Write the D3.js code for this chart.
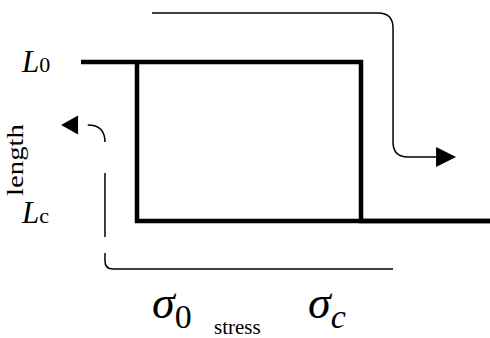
<!DOCTYPE html>
<html><head><meta charset="utf-8">
<script src="https://cdn.jsdelivr.net/npm/d3@7"></script>
<style>body{margin:0;background:#fff}svg{display:block}
text{font-family:"Liberation Serif","Times New Roman",Times,"DejaVu Serif",serif;fill:#000}</style>
</head><body>
<script>
// Data (stress in units where σ0=0, σc=1; length where Lc=0, L0=1)
const stressLabels = ["σ", "σ"];
const stressSubs = ["0", "c"];
const stressValues = [0, 1];
const lengthLabels = ["L", "L"];
const lengthSubs = ["0", "c"];
const lengthValues = [1, 0];
// loading branch (upper) and unloading branch (lower)
const loadStress = [-0.25, 1, 1, 1.58];
const loadLength = [1, 1, 0, 0];
const unloadStress = [1.58, 0, 0];
const unloadLength = [0, 0, 1];
// guide arrows (schematic direction of travel)
const guideTopStress = [0.067, 1.143, 1.143, 1.335];
const guideTopLength = [1.308, 1.308, 0.403, 0.403];
const guideBotStress = [1.143, -0.143, -0.143];
const guideBotLength = [-0.302, -0.302, -0.201];
const guideMidStress = [-0.143, -0.143];
const guideMidLength = [-0.1, 0.302];
const guideUpStress = [-0.143, -0.143, -0.22];
const guideUpLength = [0.497, 0.604, 0.604];
const arrowLeftTipStress = -0.339;

const W = 490, H = 338;
const x = d3.scaleLinear().domain([0, 1]).range([137, 361]);
const y = d3.scaleLinear().domain([0, 1]).range([221, 62]);

const svg = d3.select("body").append("svg").attr("width", W).attr("height", H);

const line = d3.line().x(d => x(d[0])).y(d => y(d[1]));
const zip = (a, b) => a.map((v, i) => [v, b[i]]);

function rounded(pts, r) {
  const p = pts.map(d => [x(d[0]), y(d[1])]);
  let s = `M${p[0][0]},${p[0][1]}`;
  for (let i = 1; i < p.length - 1; i++) {
    const a = p[i - 1], b = p[i], c = p[i + 1];
    const d1 = Math.hypot(b[0] - a[0], b[1] - a[1]), d2 = Math.hypot(c[0] - b[0], c[1] - b[1]);
    const rr = Math.min(r, d1 / 2, d2 / 2);
    const p1 = [b[0] + (a[0] - b[0]) * rr / d1, b[1] + (a[1] - b[1]) * rr / d1];
    const p2 = [b[0] + (c[0] - b[0]) * rr / d2, b[1] + (c[1] - b[1]) * rr / d2];
    s += `L${p1[0]},${p1[1]}Q${b[0]},${b[1]} ${p2[0]},${p2[1]}`;
  }
  const e = p[p.length - 1];
  return s + `L${e[0]},${e[1]}`;
}

svg.append("path").attr("d", line(zip(loadStress, loadLength)))
  .attr("fill", "none").attr("stroke", "#000").attr("stroke-width", 4.5).attr("stroke-linejoin", "miter");
svg.append("path").attr("d", line(zip(unloadStress, unloadLength)))
  .attr("fill", "none").attr("stroke", "#000").attr("stroke-width", 4.5).attr("stroke-linejoin", "miter");

function thinPath(d) {
  svg.append("path").attr("d", d).attr("fill", "none").attr("stroke", "#000").attr("stroke-width", 1.5);
}
thinPath(rounded(zip(guideTopStress, guideTopLength), 15));
thinPath(rounded(zip(guideBotStress, guideBotLength), 18));
thinPath(line(zip(guideMidStress, guideMidLength)));
{
  const p0 = [x(guideUpStress[0]), y(guideUpLength[0])];
  const p1 = [x(guideUpStress[1]), y(guideUpLength[1])];
  const p2 = [x(guideUpStress[2]), y(guideUpLength[2])];
  thinPath(`M${p0[0]},${p0[1]}Q${p1[0]},${p1[1]} ${p2[0]},${p2[1]}`);
}
// arrowheads
const tipR = [x(guideTopStress[3]) + 20, y(guideTopLength[3])];
svg.append("path").attr("d", `M${tipR[0]},${tipR[1]}L${tipR[0]-20},${tipR[1]-10}L${tipR[0]-20},${tipR[1]+10}Z`).attr("fill", "#000");
const tipL = [x(arrowLeftTipStress), y(guideUpLength[2])];
svg.append("path").attr("d", `M${tipL[0]},${tipL[1]}L${tipL[0]+17},${tipL[1]-9.5}L${tipL[0]+17},${tipL[1]+9.5}Z`).attr("fill", "#000");

// length labels
lengthValues.forEach((v, i) => {
  const t = svg.append("text").attr("x", 22).attr("y", y(v) + (i === 0 ? 10 : 2));
  t.append("tspan").attr("font-size", 31).attr("font-style", "italic").text(lengthLabels[i]);
  t.append("tspan").attr("font-size", 22).text(lengthSubs[i]);
});
svg.append("text").attr("transform", `translate(23,160) rotate(-90)`).attr("text-anchor", "middle")
  .attr("font-size", 24).attr("textLength", 72).attr("lengthAdjust", "spacingAndGlyphs").text("length");

// stress labels
const sx = [x(stressValues[0]) + 15, x(stressValues[1]) - 53];
stressValues.forEach((v, i) => {
  const t = svg.append("text").attr("x", sx[i]).attr("y", 318);
  t.append("tspan").attr("font-size", 46).attr("font-style", "italic").text(stressLabels[i]);
  t.append("tspan").attr("font-size", 34).attr("dy", 10).attr("font-style", i === 1 ? "italic" : "normal").text(stressSubs[i]);
});
svg.append("text").attr("x", 214).attr("y", 334).attr("font-size", 21).text("stress");
</script>
</body></html>
